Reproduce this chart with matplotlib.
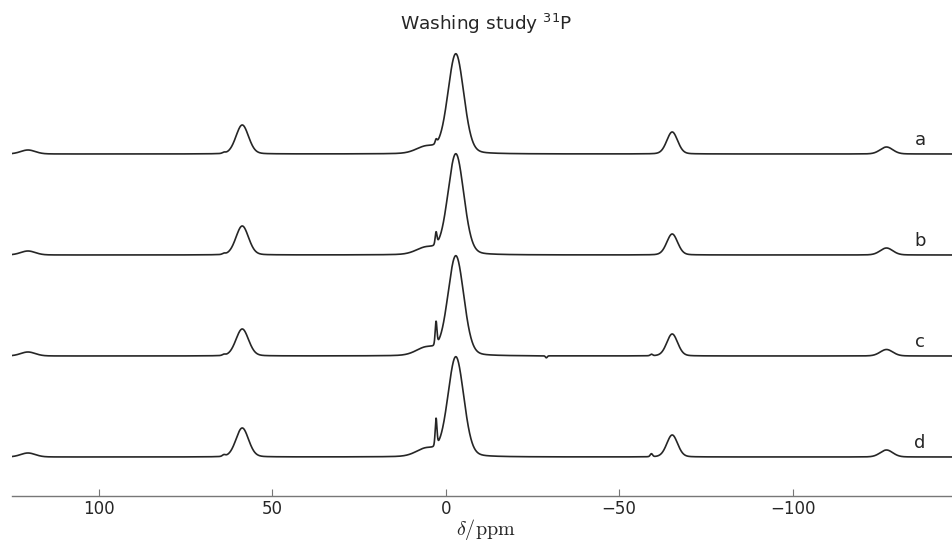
import numpy as np
import matplotlib.pyplot as plt

# peak table (ppm, FWHM in ppm)
centers = [120.5, 64.0, 58.7, 5.5, 2.8, -2.9, -29.0, -59.3, -65.3, -127.1]
widths = [5.0, 1.0, 4.3, 7.0, 0.6, 5.4, 0.6, 0.8, 3.7, 4.3]

# peak heights for each sample (same order as centers)
heights_a = [4, 1.0, 29, 7, 4, 100, 0, 0, 22, 7]
heights_b = [4, 1.0, 29, 7, 12, 101, 0, 0, 21, 7]
heights_c = [4, 1.0, 27, 8, 23, 100, -2, 1.5, 22, 6.5]
heights_d = [4, 1.5, 29, 8, 27, 100, 0, 3, 22, 7]

labels = ['a', 'b', 'c', 'd']
offsets = [303, 202, 101, 0]

ppm = np.linspace(125.1, -148.3, 5000)


def spectrum(heights, eta=0.15):
    y = np.zeros_like(ppm)
    for c, w, h in zip(centers, widths, heights):
        d = (ppm - c) / w
        g = np.exp(-4 * np.log(2) * d**2)
        l = 1 / (1 + 4 * d**2)
        y += h * ((1 - eta) * g + eta * l)
    return y


fig = plt.figure(figsize=(9.53, 5.4), dpi=100)
ax = fig.add_axes([12/953, 1 - 496/540, 948/953, 456/540])

for lab, off, hs in zip(labels, offsets, [heights_a, heights_b, heights_c, heights_d]):
    ax.plot(ppm, spectrum(hs) + off, color='#262626', lw=1.2)
    ax.text(-136.8, off + 14, lab, fontsize=13, ha='center', va='center', color='#262626')

ax.set_xlim(125.1, -148.3)
ax.set_ylim(-39, 417)
ax.set_xticks([100, 50, 0, -50, -100])
ax.tick_params(axis='x', direction='in', length=5, width=0.8, color='#777777',
               labelsize=12, labelcolor='#262626', pad=3)
ax.set_yticks([])
for s in ['left', 'right', 'top']:
    ax.spines[s].set_visible(False)
ax.spines['bottom'].set_color('#777777')
ax.spines['bottom'].set_linewidth(1.0)

ax.set_xlabel(r'$\delta/\mathrm{ppm}$', fontsize=14.5, math_fontfamily='cm', color='#262626')
ax.xaxis.set_label_coords(0.5, -0.045)
ax.set_title(r'Washing study $^{31}$P', fontsize=13.3, pad=7, color='#262626')

fig.savefig('out.png', dpi=100)
